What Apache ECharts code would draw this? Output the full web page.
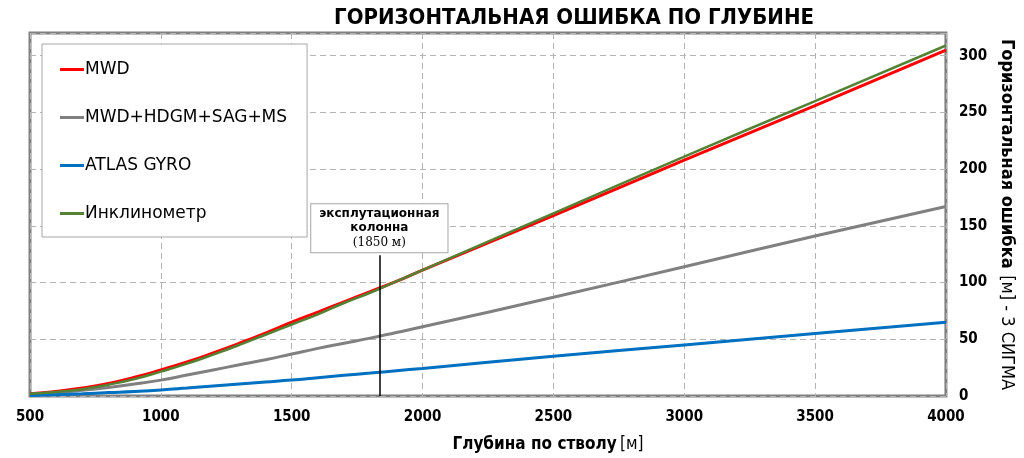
<!DOCTYPE html>
<html>
<head>
    <meta charset="utf-8">
    <title>Горизонтальная ошибка по глубине</title>
    <script src="https://cdn.jsdelivr.net/npm/echarts@6/dist/echarts.min.js"></script>
    <style>
        html, body { margin: 0; padding: 0; background: #fff; }
        #chart1 { width: 1024px; height: 458px; }
    </style>
</head>
<body>
<div id="chart1"></div>
<script type="text/javascript">
    // глубины (м) и значения ошибки (м, 3 сигма)
    var depths = [500, 600, 700, 800, 900, 1000, 1100, 1200, 1300, 1400, 1500, 1600, 1700, 1800, 1900, 2000, 2500, 3000, 3500, 4000];
    var mwd    = [2, 4, 7, 11, 16.5, 23, 30, 38, 46.5, 55.5, 65, 74, 83, 92, 101, 111, 159, 208, 256, 305];
    var hdgm   = [1.5, 3, 5, 7.5, 10.5, 14, 18.5, 23, 27.5, 32, 37, 42, 46.5, 51, 56, 61, 87, 114, 141, 167];
    var gyro   = [0.5, 1.2, 2, 3, 4, 5.3, 7, 8.8, 10.6, 12.3, 14, 16.1, 18.2, 20.2, 22.3, 24.3, 35, 45, 55, 65];
    var inkl   = [2, 3.5, 6, 10, 15, 21.5, 28.5, 36.5, 45, 54, 63, 72, 82, 91, 101, 111, 161, 211, 260, 309];

    var seriesNames = ['MWD', 'MWD+HDGM+SAG+MS', 'ATLAS GYRO', 'Инклинометр'];
    var xTicks = [500, 4000, 500];   // min, max, шаг
    var yTicks = [0, 320, 50];
    var casingDepth = 1835;          // положение линии на рисунке
    var casingTop = 124;

    function pairs(vals) {
        return depths.map(function (d, i) { return [d, vals[i]]; });
    }

    var myChart1 = echarts.init(document.getElementById('chart1'));
    var boldFont = '"DejaVu Sans Condensed", "DejaVu Sans", sans-serif';
    var gridLine = { show: true, lineStyle: { color: '#b4b4b4', type: [6, 4], width: 1 } };

    myChart1.setOption({
        animation: false,
        title: {
            text: 'ГОРИЗОНТАЛЬНАЯ ОШИБКА ПО ГЛУБИНЕ',
            left: 569,
            textAlign: 'center',
            top: 2,
            textStyle: {
                fontFamily: '"Liberation Sans Narrow", "DejaVu Sans Condensed", sans-serif',
                fontWeight: 'bold',
                fontSize: 22,
                color: '#000'
            }
        },
        legend: {
            data: seriesNames,
            orient: 'vertical',
            left: 42,
            top: 44,
            backgroundColor: '#fff',
            borderColor: '#a6a6a6',
            borderWidth: 1,
            padding: [17, 20, 15, 18],
            itemGap: 31,
            icon: 'rect',
            itemWidth: 24,
            itemHeight: 3,
            textStyle: {
                fontFamily: '"DejaVu Sans", sans-serif',
                fontSize: 17,
                color: '#000',
                padding: [0, 0, 0, -4]
            }
        },
        grid: {
            left: 30,
            right: 74,
            top: 33,
            bottom: 62,
            show: true,
            borderColor: '#808080',
            borderWidth: 3
        },
        xAxis: {
            type: 'value',
            min: xTicks[0],
            max: xTicks[1],
            interval: xTicks[2],
            name: '{b|Глубина по стволу} {n|[м]}',
            nameLocation: 'middle',
            nameGap: 40,
            nameTextStyle: {
                padding: [0, 0, 0, 120],
                rich: {
                    b: { fontFamily: boldFont, fontWeight: 'bold', fontSize: 17, color: '#000' },
                    n: { fontFamily: boldFont, fontSize: 17, color: '#000' }
                }
            },
            axisLine: { show: false },
            axisTick: { show: false },
            axisLabel: {
                margin: 14,
                fontFamily: boldFont,
                fontWeight: 'bold',
                fontSize: 15,
                color: '#000',
                formatter: function (v) { return String(v); }
            },
            splitLine: gridLine
        },
        yAxis: {
            type: 'value',
            position: 'right',
            min: yTicks[0],
            max: yTicks[1],
            interval: yTicks[2],
            name: '{b|Горизонтальная ошибка}  {n|[м] - 3 СИГМА}',
            nameLocation: 'middle',
            nameRotate: -90,
            nameGap: 46,
            nameTextStyle: {
                rich: {
                    b: { fontFamily: boldFont, fontWeight: 'bold', fontSize: 18, color: '#000' },
                    n: { fontFamily: boldFont, fontSize: 18, color: '#000' }
                }
            },
            axisLine: { show: false },
            axisTick: { show: false },
            axisLabel: {
                margin: 13,
                fontFamily: boldFont,
                fontWeight: 'bold',
                fontSize: 15,
                color: '#000',
                showMaxLabel: false
            },
            splitLine: gridLine
        },
        series: [{
            name: seriesNames[0],
            type: 'line',
            smooth: true,
            showSymbol: false,
            data: pairs(mwd),
            lineStyle: { color: '#ff0000', width: 3 },
            itemStyle: { color: '#ff0000' },
            markLine: {
                silent: true,
                symbol: 'none',
                lineStyle: { color: '#000', width: 1.5, type: 'solid' },
                label: {
                    position: 'end',
                    distance: 3,
                    formatter: '{b|эксплутационная}\n{b|колонна}\n{n|(1850 м)}',
                    backgroundColor: '#fff',
                    borderColor: '#a6a6a6',
                    borderWidth: 1,
                    padding: [3, 8, 2, 8],
                    align: 'center',
                    rich: {
                        b: { fontFamily: '"DejaVu Sans", sans-serif', fontWeight: 'bold', fontSize: 12, color: '#000', lineHeight: 14, align: 'center' },
                        n: { fontFamily: '"DejaVu Serif", serif', fontSize: 12, color: '#000', lineHeight: 15, align: 'center' }
                    }
                },
                data: [[
                    { coord: [casingDepth, 0] },
                    { coord: [casingDepth, casingTop] }
                ]]
            }
        }, {
            name: seriesNames[1],
            type: 'line',
            smooth: true,
            showSymbol: false,
            data: pairs(hdgm),
            lineStyle: { color: '#808080', width: 3 },
            itemStyle: { color: '#808080' }
        }, {
            name: seriesNames[2],
            type: 'line',
            smooth: true,
            showSymbol: false,
            data: pairs(gyro),
            lineStyle: { color: '#0070c0', width: 3 },
            itemStyle: { color: '#0070c0' }
        }, {
            name: seriesNames[3],
            type: 'line',
            smooth: true,
            showSymbol: false,
            data: pairs(inkl),
            lineStyle: { color: '#548235', width: 2.5 },
            itemStyle: { color: '#548235' }
        }]
    });
</script>
</body>
</html>
